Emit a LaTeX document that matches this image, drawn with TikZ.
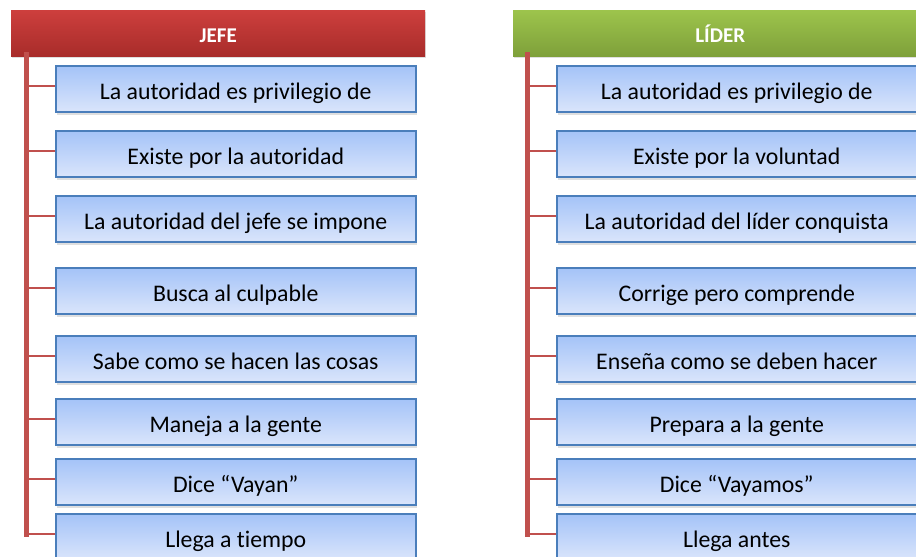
\documentclass[tikz,border=0pt]{standalone}
\usepackage{fontspec}
\setmainfont[Ligatures=NoCommon]{Carlito}
\usetikzlibrary{positioning,shadows}

\definecolor{redtop}{HTML}{CD3F3D}
\definecolor{redbot}{HTML}{A82C2A}
\definecolor{greentop}{HTML}{9DC44C}
\definecolor{greenbot}{HTML}{7EA03A}
\definecolor{boxtop}{HTML}{A4C3F8}
\definecolor{boxbot}{HTML}{DAE5FB}
\definecolor{boxline}{HTML}{4A7EBB}
\definecolor{trunkred}{HTML}{C0504D}

\tikzset{
  head/.style={rectangle,minimum width=414pt,minimum height=46pt,anchor=north west,
    text=white,font=\bfseries\fontsize{21}{24}\selectfont,
    text height=18pt,text depth=0pt,
    drop shadow={shadow xshift=1pt,shadow yshift=-2pt,opacity=0.25}},
  item/.style={rectangle,draw=boxline,line width=1.5pt,top color=boxtop,bottom color=boxbot,
    minimum width=360pt,minimum height=46pt,anchor=north west,
    text height=21pt,text depth=0pt,font=\fontsize{23.8}{27}\selectfont,
    drop shadow={shadow xshift=1.5pt,shadow yshift=-3pt,opacity=0.25}},
  trunk/.style={draw=trunkred,line width=5pt},
  branch/.style={draw=trunkred,line width=2pt},
}

\begin{document}
\begin{tikzpicture}[x=1pt,y=-1pt]
\useasboundingbox (0,0) rectangle (916,557);

% headers
\node[head,top color=redtop,bottom color=redbot] (jefe) at (11,10) {JEFE};
\node[head,top color=greentop,bottom color=greenbot] (lider) at (513,10) {LÍDER};

% left column
\node[item] (j1) at (55,65) {La autoridad es privilegio de};
\node[item] (j2) at (55,130) {Existe por la autoridad};
\node[item] (j3) at (55,195) {La autoridad del jefe se impone};
\node[item] (j4) at (55,267) {Busca al culpable};
\node[item] (j5) at (55,335) {Sabe como se hacen las cosas};
\node[item] (j6) at (55,398) {Maneja a la gente};
\node[item] (j7) at (55,458) {Dice “Vayan”};
\node[item] (j8) at (55,513) {Llega a tiempo};

% right column
\node[item] (l1) at (556,65) {La autoridad es privilegio de};
\node[item] (l2) at (556,130) {Existe por la voluntad};
\node[item] (l3) at (556,195) {La autoridad del líder conquista};
\node[item] (l4) at (556,267) {Corrige pero comprende};
\node[item] (l5) at (556,335) {Enseña como se deben hacer};
\node[item] (l6) at (556,398) {Prepara a la gente};
\node[item] (l7) at (556,458) {Dice “Vayamos”};
\node[item] (l8) at (556,513) {Llega antes};

\coordinate (jtop) at (26.5,52);
\coordinate (jbot) at (26.5,537);
\coordinate (ltop) at (527,52);
\coordinate (lbot) at (527,537);

\path[trunk] (jtop) -- (jbot);
\path[trunk] (ltop) -- (lbot);

\path[branch]
([yshift=2.5pt]j1.west) -- ([yshift=2.5pt]j1.west -| jtop)
([yshift=2.5pt]j2.west) -- ([yshift=2.5pt]j2.west -| jtop)
([yshift=2.5pt]j3.west) -- ([yshift=2.5pt]j3.west -| jtop)
([yshift=2.5pt]j4.west) -- ([yshift=2.5pt]j4.west -| jtop)
([yshift=2.5pt]j5.west) -- ([yshift=2.5pt]j5.west -| jtop)
([yshift=2.5pt]j6.west) -- ([yshift=2.5pt]j6.west -| jtop)
([yshift=2.5pt]j7.west) -- ([yshift=2.5pt]j7.west -| jtop)
([yshift=2.5pt]j8.west) -- ([yshift=2.5pt]j8.west -| jtop);

\path[branch]
([yshift=2.5pt]l1.west) -- ([yshift=2.5pt]l1.west -| ltop)
([yshift=2.5pt]l2.west) -- ([yshift=2.5pt]l2.west -| ltop)
([yshift=2.5pt]l3.west) -- ([yshift=2.5pt]l3.west -| ltop)
([yshift=2.5pt]l4.west) -- ([yshift=2.5pt]l4.west -| ltop)
([yshift=2.5pt]l5.west) -- ([yshift=2.5pt]l5.west -| ltop)
([yshift=2.5pt]l6.west) -- ([yshift=2.5pt]l6.west -| ltop)
([yshift=2.5pt]l7.west) -- ([yshift=2.5pt]l7.west -| ltop)
([yshift=2.5pt]l8.west) -- ([yshift=2.5pt]l8.west -| ltop);

\end{tikzpicture}
\end{document}
